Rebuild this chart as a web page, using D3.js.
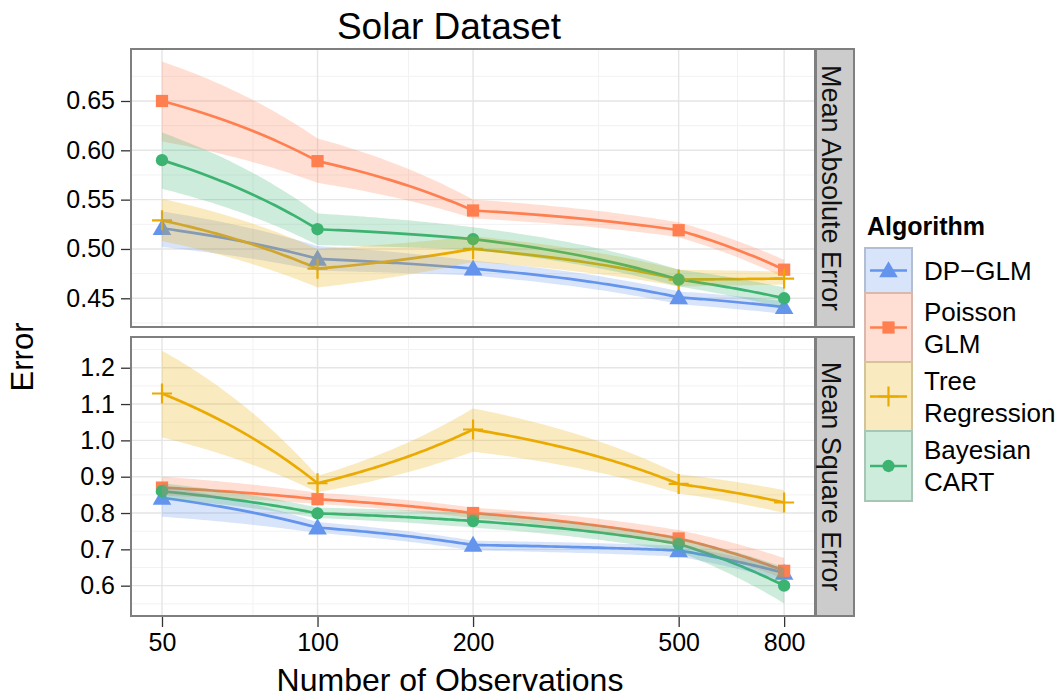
<!DOCTYPE html>
<html>
<head>
<meta charset="utf-8">
<script src="https://cdn.jsdelivr.net/npm/d3@7"></script>
<style>
  html, body { margin: 0; padding: 0; background: #fff; }
  svg { display: block; font-family: "Liberation Sans", Arial, Helvetica, sans-serif; }
</style>
</head>
<body>
<svg id="chart" width="1062" height="698"></svg>
<script>
// ---------------- data ----------------
const observations = [50, 100, 200, 500, 800];
const xTickLabels = ["50", "100", "200", "500", "800"];
const algorithms = ["DP\u2212GLM", "Poisson GLM", "Tree Regression", "Bayesian CART"];
const legendLines = [["DP\u2212GLM"], ["Poisson", "GLM"], ["Tree", "Regression"], ["Bayesian", "CART"]];
const metrics = ["Mean Absolute Error", "Mean Square Error"];
const maeTicks = [0.45, 0.50, 0.55, 0.60, 0.65];
const mseTicks = [0.6, 0.7, 0.8, 0.9, 1.0, 1.1, 1.2];

// Mean Absolute Error
const dpglmMAE      = [0.521, 0.490, 0.480, 0.451, 0.441];
const dpglmMAELo    = [0.502, 0.478, 0.473, 0.444, 0.434];
const dpglmMAEHi    = [0.538, 0.503, 0.488, 0.457, 0.447];
const poissonMAE    = [0.650, 0.589, 0.539, 0.519, 0.479];
const poissonMAELo  = [0.609, 0.567, 0.531, 0.512, 0.471];
const poissonMAEHi  = [0.690, 0.612, 0.550, 0.527, 0.489];
const treeMAE       = [0.529, 0.480, 0.500, 0.469, 0.470];
const treeMAELo     = [0.508, 0.461, 0.487, 0.462, 0.464];
const treeMAEHi     = [0.551, 0.500, 0.513, 0.479, 0.477];
const bcartMAE      = [0.590, 0.520, 0.510, 0.469, 0.450];
const bcartMAELo    = [0.561, 0.504, 0.499, 0.462, 0.440];
const bcartMAEHi    = [0.618, 0.536, 0.522, 0.479, 0.461];

// Mean Square Error
const dpglmMSE      = [0.842, 0.760, 0.712, 0.697, 0.635];
const dpglmMSELo    = [0.790, 0.745, 0.697, 0.680, 0.612];
const dpglmMSEHi    = [0.875, 0.775, 0.724, 0.710, 0.648];
const poissonMSE    = [0.870, 0.838, 0.800, 0.730, 0.641];
const poissonMSELo  = [0.848, 0.825, 0.786, 0.710, 0.618];
const poissonMSEHi  = [0.900, 0.856, 0.815, 0.753, 0.676];
const treeMSE       = [1.129, 0.882, 1.030, 0.880, 0.829];
const treeMSELo     = [1.008, 0.857, 0.969, 0.854, 0.800];
const treeMSEHi     = [1.247, 0.902, 1.088, 0.907, 0.863];
const bcartMSE      = [0.860, 0.799, 0.778, 0.715, 0.600];
const bcartMSELo    = [0.840, 0.786, 0.760, 0.693, 0.551];
const bcartMSEHi    = [0.882, 0.815, 0.800, 0.732, 0.650];

// ---------------- assembly ----------------
const colors = ["#6495ED", "#FF7F50", "#EBAA00", "#3CB371"];
const shapes = ["triangle", "square", "plus", "circle"];

const panelsData = [
  { metric: metrics[0], ticks: maeTicks, fmt: d3.format(".2f"), domain: [0.4209, 0.7027],
    minor: [0.425, 0.475, 0.525, 0.575, 0.625, 0.675],
    series: [
      { mean: dpglmMAE, lo: dpglmMAELo, hi: dpglmMAEHi },
      { mean: poissonMAE, lo: poissonMAELo, hi: poissonMAEHi },
      { mean: treeMAE, lo: treeMAELo, hi: treeMAEHi },
      { mean: bcartMAE, lo: bcartMAELo, hi: bcartMAEHi } ] },
  { metric: metrics[1], ticks: mseTicks, fmt: d3.format(".1f"), domain: [0.5165, 1.2846],
    minor: [0.55, 0.65, 0.75, 0.85, 0.95, 1.05, 1.15, 1.25],
    series: [
      { mean: dpglmMSE, lo: dpglmMSELo, hi: dpglmMSEHi },
      { mean: poissonMSE, lo: poissonMSELo, hi: poissonMSEHi },
      { mean: treeMSE, lo: treeMSELo, hi: treeMSEHi },
      { mean: bcartMSE, lo: bcartMSELo, hi: bcartMSEHi } ] }
];
const xMinor = [75, 150, 350, 650];

// ---------------- layout ----------------
const svg = d3.select("#chart");
const panelLeft = 131, panelRight = 815;
const panelBoxes = [ { top: 49, bottom: 327 }, { top: 337, bottom: 616 } ];
const stripW = 39;

const x = d3.scaleLog().domain([43.55, 918]).range([panelLeft, panelRight]);

// Curve that draws straight segments of the untransformed x space through the log x scale
// (like a coordinate transformation: lines straight in n become curved on a log axis).
function LogMunch(context) { this._context = context; }
LogMunch.prototype = {
  areaStart() { this._line = 0; },
  areaEnd() { this._line = NaN; },
  lineStart() { this._point = 0; },
  lineEnd() {
    if (this._line || (this._line !== 0 && this._point === 1)) this._context.closePath();
    this._line = 1 - this._line;
  },
  point(px, py) {
    px = +px; py = +py;
    if (this._point === 0) {
      this._point = 1;
      this._line ? this._context.lineTo(px, py) : this._context.moveTo(px, py);
    } else {
      this._point = 2;
      const n0 = x.invert(this._x0), n1 = x.invert(px);
      const steps = 40;
      for (let k = 1; k <= steps; k++) {
        const t = k / steps;
        this._context.lineTo(x(n0 + t * (n1 - n0)), this._y0 + t * (py - this._y0));
      }
    }
    this._x0 = px; this._y0 = py;
  }
};
const curveLogMunch = ctx => new LogMunch(ctx);

svg.append("rect").attr("width", 1062).attr("height", 698).attr("fill", "#fff");

function symbolPath(shape, size) {
  if (shape === "triangle") return d3.symbol(d3.symbolTriangle, size)();
  if (shape === "square") return d3.symbol(d3.symbolSquare, size)();
  if (shape === "circle") return d3.symbol(d3.symbolCircle, size)();
  return null;
}

function drawMarker(g, shape, color, cx, cy) {
  if (shape === "plus") {
    const h = 10;
    g.append("path")
      .attr("d", `M${cx - h},${cy}H${cx + h}M${cx},${cy - h}V${cy + h}`)
      .attr("stroke", color).attr("stroke-width", 2.2).attr("fill", "none");
  } else {
    const size = shape === "triangle" ? 150 : shape === "square" ? 150 : 120;
    const dy = shape === "triangle" ? 1.5 : 0;
    g.append("path").attr("d", symbolPath(shape, size))
      .attr("transform", `translate(${cx},${cy + dy})`)
      .attr("fill", color);
  }
}

panelsData.forEach((p, pi) => {
  const box = panelBoxes[pi];
  const y = d3.scaleLinear().domain(p.domain).range([box.bottom, box.top]);
  const g = svg.append("g");
  const clipId = "clip" + pi;
  svg.append("clipPath").attr("id", clipId).append("rect")
    .attr("x", panelLeft).attr("y", box.top)
    .attr("width", panelRight - panelLeft).attr("height", box.bottom - box.top);

  // grid
  const grid = g.append("g");
  p.minor.forEach(v => grid.append("line")
    .attr("x1", panelLeft).attr("x2", panelRight).attr("y1", y(v)).attr("y2", y(v))
    .attr("stroke", "#F2F2F2").attr("stroke-width", 1));
  xMinor.forEach(v => grid.append("line")
    .attr("x1", x(v)).attr("x2", x(v)).attr("y1", box.top).attr("y2", box.bottom)
    .attr("stroke", "#F2F2F2").attr("stroke-width", 1));
  p.ticks.forEach(v => grid.append("line")
    .attr("x1", panelLeft).attr("x2", panelRight).attr("y1", y(v)).attr("y2", y(v))
    .attr("stroke", "#E5E5E5").attr("stroke-width", 1.4));
  observations.forEach(v => grid.append("line")
    .attr("x1", x(v)).attr("x2", x(v)).attr("y1", box.top).attr("y2", box.bottom)
    .attr("stroke", "#E5E5E5").attr("stroke-width", 1.4));

  const data = g.append("g").attr("clip-path", `url(#${clipId})`);
  const line = d3.line().x((d, i) => x(observations[i])).y(d => y(d)).curve(curveLogMunch);
  // lines
  p.series.forEach((s, si) => {
    data.append("path").attr("d", line(s.mean))
      .attr("fill", "none").attr("stroke", colors[si]).attr("stroke-width", 2.7)
      .attr("stroke-linejoin", "round");
  });
  // points
  p.series.forEach((s, si) => {
    s.mean.forEach((v, i) => drawMarker(data, shapes[si], colors[si], x(observations[i]), y(v)));
  });
  // ribbons
  const area = d3.area().x((d, i) => x(observations[i]))
    .y0((d) => y(d[0])).y1(d => y(d[1])).curve(curveLogMunch);
  p.series.forEach((s, si) => {
    const pts = s.lo.map((v, i) => [v, s.hi[i]]);
    data.append("path").attr("d", area(pts))
      .attr("fill", colors[si]).attr("fill-opacity", 0.25);
  });

  // border
  g.append("rect").attr("x", panelLeft).attr("y", box.top)
    .attr("width", panelRight - panelLeft).attr("height", box.bottom - box.top)
    .attr("fill", "none").attr("stroke", "#7F7F7F").attr("stroke-width", 2);

  // y axis
  const yAxis = d3.axisLeft(y).tickValues(p.ticks).tickFormat(p.fmt).tickSize(9).tickPadding(6);
  const ya = svg.append("g").attr("transform", `translate(${panelLeft - 1},0)`).call(yAxis);
  ya.select(".domain").remove();
  ya.selectAll(".tick line").attr("stroke", "#333").attr("stroke-width", 1.3);
  ya.selectAll(".tick text").attr("fill", "#000").attr("font-size", 25)
    .attr("font-family", "Liberation Sans, Arial, sans-serif");

  // strip
  svg.append("rect").attr("x", panelRight + 1).attr("y", box.top)
    .attr("width", stripW - 1).attr("height", box.bottom - box.top)
    .attr("fill", "#CCCCCC").attr("stroke", "#7F7F7F").attr("stroke-width", 2);
  svg.append("text")
    .attr("transform", `translate(${panelRight + 7},${(box.top + box.bottom) / 2}) rotate(90)`)
    .attr("text-anchor", "middle").attr("font-size", 27).attr("fill", "#111")
    .text(p.metric);

  if (pi === 1) {
    const xAxis = d3.axisBottom(x).tickValues(observations)
      .tickFormat((d, i) => xTickLabels[i]).tickSize(10).tickPadding(6);
    const xa = svg.append("g").attr("transform", `translate(0,${box.bottom + 1})`).call(xAxis);
    xa.select(".domain").remove();
    xa.selectAll(".tick line").attr("stroke", "#333").attr("stroke-width", 1.3);
    xa.selectAll(".tick text").attr("fill", "#000").attr("font-size", 25)
      .attr("font-family", "Liberation Sans, Arial, sans-serif");
  }
});

// titles
svg.append("text").attr("x", 449).attr("y", 39).attr("text-anchor", "middle")
  .attr("font-size", 37).attr("fill", "#000").text("Solar Dataset");
svg.append("text").attr("x", 450).attr("y", 691).attr("text-anchor", "middle")
  .attr("font-size", 32).attr("fill", "#000").text("Number of Observations");
svg.append("text").attr("transform", "translate(33,357) rotate(-90)")
  .attr("text-anchor", "middle").attr("font-size", 31).attr("fill", "#000").text("Error");

// legend
const lg = svg.append("g");
lg.append("text").attr("x", 867).attr("y", 235).attr("font-size", 25)
  .attr("font-weight", "bold").attr("fill", "#000").text("Algorithm");
const keyBoxes = [[248, 293], [293, 362], [362, 431], [431, 501]];
algorithms.forEach((a, i) => {
  const [t, b] = keyBoxes[i];
  const cy = (t + b) / 2;
  lg.append("rect").attr("x", 865).attr("y", t).attr("width", 47).attr("height", b - t)
    .attr("fill", "#fff").attr("stroke", "#CCCCCC").attr("stroke-width", 2);
  lg.append("rect").attr("x", 864).attr("y", t - 1).attr("width", 49).attr("height", b - t + 2)
    .attr("fill", colors[i]).attr("fill-opacity", 0.25);
  lg.append("line").attr("x1", 870).attr("x2", 907).attr("y1", cy).attr("y2", cy)
    .attr("stroke", colors[i]).attr("stroke-width", 2.7);
  drawMarker(lg, shapes[i], colors[i], 888.5, cy);
  const linesTxt = legendLines[i];
  const baselines = linesTxt.length === 1 ? [cy + 9] : [cy - 7, cy + 25];
  linesTxt.forEach((tx, k) => lg.append("text").attr("x", 924).attr("y", baselines[k])
    .attr("font-size", 26).attr("fill", "#000").text(tx));
});
</script>
</body>
</html>
